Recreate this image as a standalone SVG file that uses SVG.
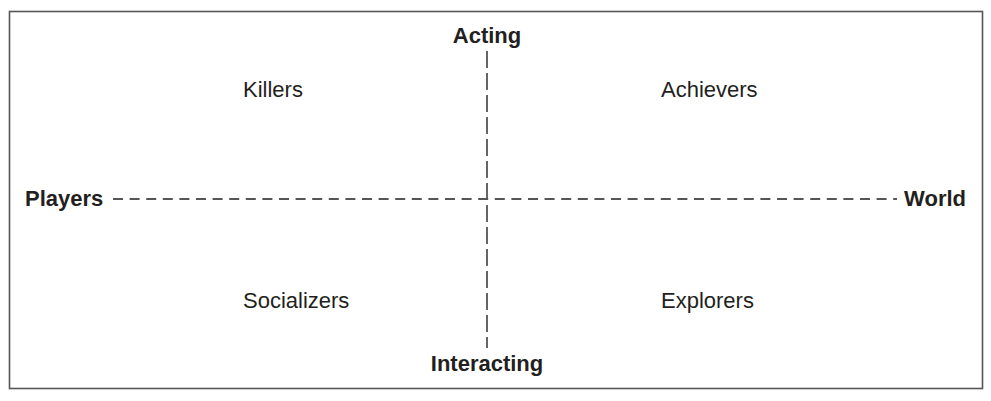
<svg xmlns="http://www.w3.org/2000/svg" width="991" height="401" viewBox="0 0 991 401">
<style>
.lbl{font-family:"Liberation Sans",Arial,sans-serif;font-size:22px;fill:#231f20}
.b{font-weight:bold}
.axis{stroke:#555;stroke-width:1.8;fill:none}
.h{stroke-dasharray:10 6.6}
.v{stroke-dasharray:17 5}
</style>
<rect x="9.5" y="11.5" width="973" height="377" fill="#fff" stroke="#555" stroke-width="1.6"/>
<g id="connectors">
<line class="axis v" x1="487" y1="51" x2="487" y2="348"/>
<line class="axis h" x1="113" y1="199" x2="897" y2="199"/>
</g>
<g id="acting"><text class="lbl b" x="487" y="43" text-anchor="middle">Acting</text></g>
<g id="interacting"><text class="lbl b" x="487" y="371" text-anchor="middle">Interacting</text></g>
<g id="players"><text class="lbl b" x="25" y="206">Players</text></g>
<g id="world"><text class="lbl b" x="966" y="206" text-anchor="end">World</text></g>
<g id="killers"><text class="lbl" x="243" y="97">Killers</text></g>
<g id="achievers"><text class="lbl" x="661" y="97">Achievers</text></g>
<g id="socializers"><text class="lbl" x="243" y="308">Socializers</text></g>
<g id="explorers"><text class="lbl" x="661" y="308">Explorers</text></g>
</svg>
